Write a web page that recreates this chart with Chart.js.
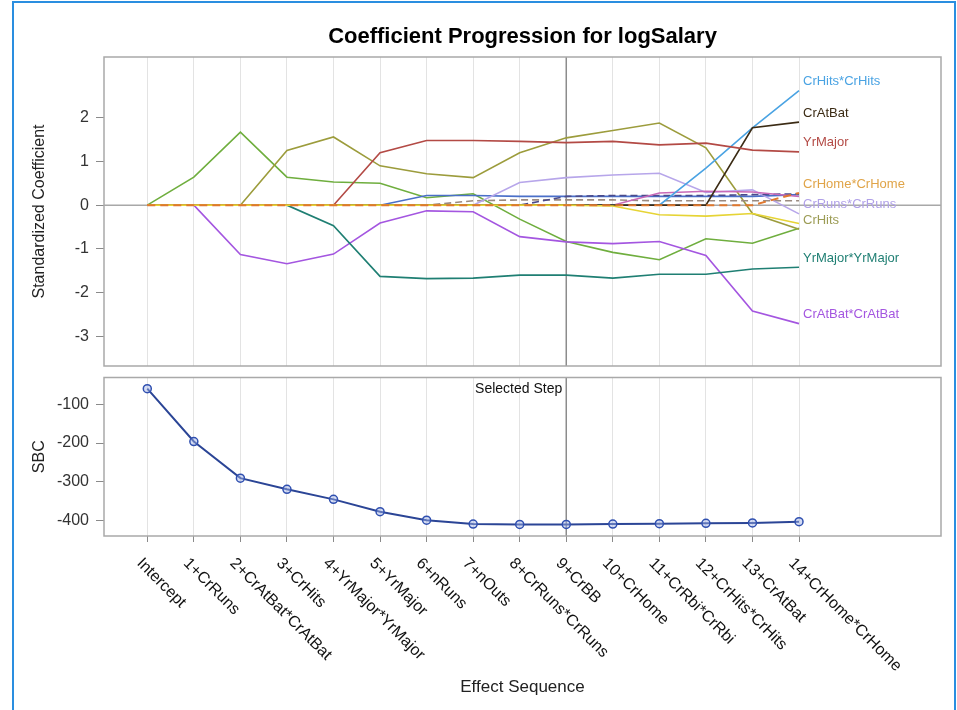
<!DOCTYPE html>
<html><head><meta charset="utf-8">
<script src="https://cdn.jsdelivr.net/npm/chart.js@4.4.1/dist/chart.umd.min.js"></script>
<style>
html,body{margin:0;padding:0;background:#fff;}
#wrap{position:relative;width:957px;height:710px;overflow:hidden;background:#fff;}
#frame{position:absolute;left:12px;top:1px;width:944px;height:730px;border:2px solid #2a8ee0;border-bottom:none;box-sizing:border-box;pointer-events:none}
#c1{position:absolute;left:0;top:0}
#c2{position:absolute;left:0;top:372px}
</style></head><body>
<div id="wrap">
<canvas id="c1" width="957" height="372"></canvas>
<canvas id="c2" width="957" height="338"></canvas>
<div id="frame"></div>
</div>
<script>
// ---------------- DATA ----------------
const steps = ["Intercept","1+CrRuns","2+CrAtBat*CrAtBat","3+CrHits","4+YrMajor*YrMajor","5+YrMajor","6+nRuns","7+nOuts","8+CrRuns*CrRuns","9+CrBB","10+CrHome","11+CrRbi*CrRbi","12+CrHits*CrHits","13+CrAtBat","14+CrHome*CrHome"];
const sbcValues = [-59,-196,-291,-320,-346,-378,-400,-410,-411,-411,-410,-409,-408,-407,-404];
const selectedStep = 9;

const effectNames = ["CrHome*CrHome","CrHome","YrMajor","CrAtBat","CrHits*CrHits","CrRbi*CrRbi","CrBB","CrRuns*CrRuns","nOuts","nRuns","YrMajor*YrMajor","CrHits","CrAtBat*CrAtBat","CrRuns"];
const coefCrRuns        = [0,0.64,1.67,0.64,0.53,0.50,0.17,0.26,-0.32,-0.83,-1.08,-1.25,-0.77,-0.87,-0.53];
const coefCrAtBatSq     = [0,0,-1.13,-1.34,-1.12,-0.41,-0.13,-0.15,-0.72,-0.84,-0.88,-0.83,-1.15,-2.42,-2.71];
const coefCrHits        = [0,0,0,1.25,1.56,0.90,0.72,0.63,1.20,1.54,1.71,1.88,1.31,-0.19,-0.55];
const coefYrMajorSq     = [0,0,0,0,-0.47,-1.63,-1.68,-1.67,-1.60,-1.60,-1.67,-1.58,-1.58,-1.46,-1.42];
const coefYrMajor       = [0,0,0,0,0,1.20,1.48,1.48,1.46,1.43,1.46,1.38,1.42,1.26,1.22];
const coefnRuns         = [0,0,0,0,0,0,0.22,0.22,0.20,0.20,0.20,0.20,0.20,0.20,0.24];
const coefnOuts         = [0,0,0,0,0,0,0,0.10,0.12,0.12,0.12,0.10,0.10,0.10,0.10];
const coefCrRunsSq      = [0,0,0,0,0,0,0,0,0.52,0.63,0.69,0.73,0.29,0.35,-0.20];
const coefCrBB          = [0,0,0,0,0,0,0,0,0,0.20,0.22,0.22,0.22,0.24,0.26];
const coefCrHome        = [0,0,0,0,0,0,0,0,0,0,-0.02,-0.22,-0.25,-0.19,-0.42];
const coefCrRbiSq       = [0,0,0,0,0,0,0,0,0,0,0,0.28,0.32,0.30,0.20];
const coefCrHitsSq      = [0,0,0,0,0,0,0,0,0,0,0,0,0.85,1.77,2.62];
const coefCrAtBat       = [0,0,0,0,0,0,0,0,0,0,0,0,0,1.77,1.90];
const coefCrHomeSq      = [0,0,0,0,0,0,0,0,0,0,0,0,0,0,0.28];
const coefSeries = [coefCrHomeSq,coefCrHome,coefYrMajor,coefCrAtBat,coefCrHitsSq,coefCrRbiSq,coefCrBB,coefCrRunsSq,coefnOuts,coefnRuns,coefYrMajorSq,coefCrHits,coefCrAtBatSq,coefCrRuns];
const labeledEffects = ["CrHits*CrHits","CrAtBat","YrMajor","CrHome*CrHome","CrRuns*CrRuns","CrHits","YrMajor*YrMajor","CrAtBat*CrAtBat"];
const coefTicks = [2,1,0,-1,-2,-3];
const sbcTicks = [-100,-200,-300,-400];

// ---------------- STYLE ----------------
const seriesColors = {
  "CrRuns":"#6fae3e","CrAtBat*CrAtBat":"#a456e0","CrHits":"#9c9c3c","YrMajor*YrMajor":"#1f7f73",
  "YrMajor":"#b34a45","nRuns":"#4a6fc8","nOuts":"#9a8a80","CrRuns*CrRuns":"#b7a6ea","CrBB":"#4a4a8a",
  "CrHome":"#e6d435","CrRbi*CrRbi":"#c86ab8","CrHits*CrHits":"#4aa3e3","CrAtBat":"#3b2b14","CrHome*CrHome":"#e0782e"
};
const labelColors = {"CrHome*CrHome":"#e0a448","CrRuns*CrRuns":"#b0a0e8","CrHits":"#9c9c55"};
const dashed = {"nOuts":[7,4],"CrBB":[7,4],"CrHome*CrHome":[8,5]};
const FONT = "'Liberation Sans', Arial, Helvetica, sans-serif";
Chart.defaults.font.family = FONT;
Chart.defaults.color = '#333';

const stepIdx = steps.map((_, i) => i);
const X_MIN = -0.93, X_MAX = 17.05;

function fixY(w){ return s => { s.width = w; s.paddingTop = 0; s.paddingBottom = 0; }; }
function fixX(h){ return s => { s.height = h; s.paddingLeft = 0; s.paddingRight = 0; }; }

const panelPlugin = {
  id: 'panel',
  beforeDatasetsDraw(chart, args, opts) {
    const {ctx, chartArea: a, scales: {x, y}} = chart;
    ctx.save();
    if (opts.zeroLine) {
      const yz = y.getPixelForValue(0);
      ctx.strokeStyle = '#a8a8a8'; ctx.lineWidth = 1.5;
      ctx.beginPath(); ctx.moveTo(a.left, yz); ctx.lineTo(a.right, yz); ctx.stroke();
    }
    const xs = x.getPixelForValue(selectedStep);
    ctx.strokeStyle = '#8c8c8c'; ctx.lineWidth = 1.5;
    ctx.beginPath(); ctx.moveTo(xs, a.top); ctx.lineTo(xs, a.bottom); ctx.stroke();
    ctx.restore();
  },
  afterDraw(chart, args, opts) {
    const {ctx, chartArea: a, scales: {x, y}} = chart;
    ctx.save();
    ctx.strokeStyle = '#a9a9a9'; ctx.lineWidth = 1.5;
    ctx.strokeRect(a.left, a.top, a.right - a.left, a.bottom - a.top);
    if (opts.title) {
      ctx.fillStyle = '#000'; ctx.font = 'bold 22px ' + FONT;
      ctx.textAlign = 'center'; ctx.textBaseline = 'middle';
      ctx.fillText(opts.title, (a.left + a.right) / 2, 37);
    }
    if (opts.endLabels) {
      ctx.font = '13px ' + FONT; ctx.textAlign = 'left'; ctx.textBaseline = 'middle';
      effectNames.forEach((name, k) => {
        if (!labeledEffects.includes(name)) return;
        const vals = coefSeries[k];
        const last = vals.length - 1;
        ctx.fillStyle = labelColors[name] || seriesColors[name];
        ctx.fillText(name, x.getPixelForValue(last) + 4, y.getPixelForValue(vals[last]) - 9);
      });
    }
    if (opts.stepLabels) {
      ctx.fillStyle = '#111'; ctx.font = '14px ' + FONT;
      ctx.textAlign = 'right'; ctx.textBaseline = 'middle';
      ctx.fillText('Selected Step', x.getPixelForValue(selectedStep) - 4, a.top + 12);
      ctx.font = '16px ' + FONT; ctx.textAlign = 'left';
      steps.forEach((s, i) => {
        ctx.save();
        ctx.translate(x.getPixelForValue(i) - 8, a.bottom + 25);
        ctx.rotate(Math.PI / 4);
        ctx.fillText(s, 0, 0);
        ctx.restore();
      });
    }
    ctx.restore();
  }
};

const xCommon = (tickLen, h, title) => ({
  type: 'linear', min: X_MIN, max: X_MAX,
  afterBuildTicks: s => { s.ticks = stepIdx.map(v => ({value: v})); },
  ticks: {display: false},
  grid: {color: '#e3e3e3', lineWidth: 1, drawTicks: tickLen > 0, tickLength: tickLen, tickColor: '#8a8a8a'},
  border: {display: false},
  afterFit: fixX(h),
  title: title ? {display: true, text: title, color: '#222', font: {size: 17}, padding: {top: 12, bottom: 12}} : {display: false}
});
const yCommon = (min, max, tickVals, title) => ({
  type: 'linear', min, max,
  afterBuildTicks: s => { s.ticks = tickVals.map(v => ({value: v})); },
  ticks: {font: {size: 16}, color: '#333', padding: 7, callback: v => String(v)},
  grid: {drawOnChartArea: false, drawTicks: true, tickLength: 8, tickColor: '#8a8a8a'},
  border: {display: false},
  afterFit: fixY(104),
  title: {display: true, text: title, color: '#222', font: {size: 16}, padding: {top: 30, bottom: 0}}
});

new Chart(document.getElementById('c1'), {
  type: 'line',
  data: {
    datasets: effectNames.map((name, k) => ({
      label: name,
      data: coefSeries[k].map((v, i) => ({x: stepIdx[i], y: v})),
      borderColor: seriesColors[name], borderWidth: name === 'CrHome*CrHome' ? 2 : 1.6,
      borderDash: dashed[name] || [], pointRadius: 0, fill: false, tension: 0
    }))
  },
  options: {
    responsive: false, animation: false, devicePixelRatio: 1,
    layout: {padding: {left: 0, top: 57, right: 16, bottom: 6}},
    scales: {x: xCommon(0, 0, null), y: yCommon(-3.68, 3.39, coefTicks, 'Standardized Coefficient')},
    plugins: {legend: {display: false}, tooltip: {enabled: false}, title: {display: false},
      panel: {zeroLine: true, title: 'Coefficient Progression for logSalary', endLabels: true}}
  },
  plugins: [panelPlugin]
});

new Chart(document.getElementById('c2'), {
  type: 'line',
  data: {
    datasets: [{
      label: 'SBC',
      data: sbcValues.map((v, i) => ({x: stepIdx[i], y: v})),
      borderColor: '#2b4596', borderWidth: 2, tension: 0, fill: false,
      pointRadius: 4, pointBorderWidth: 1.5, pointBorderColor: '#3050b0', pointBackgroundColor: 'rgba(160,178,230,0.45)'
    }]
  },
  options: {
    responsive: false, animation: false, devicePixelRatio: 1,
    layout: {padding: {left: 0, top: 5, right: 16, bottom: 0}},
    scales: {x: xCommon(6, 174, 'Effect Sequence'), y: yCommon(-441, -30, sbcTicks, 'SBC')},
    plugins: {legend: {display: false}, tooltip: {enabled: false}, title: {display: false},
      panel: {zeroLine: false, stepLabels: true}}
  },
  plugins: [panelPlugin]
});
</script>
</body></html>
